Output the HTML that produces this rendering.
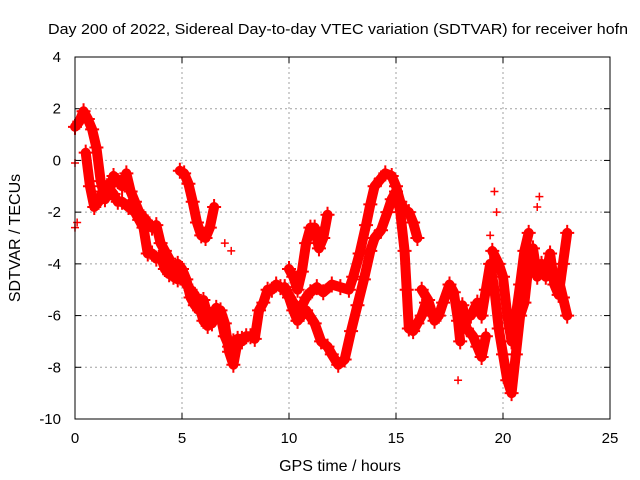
<!DOCTYPE html>
<html><head><meta charset="utf-8"><style>
body{margin:0;background:#fff}
svg{display:block;font-family:"Liberation Sans",sans-serif}
</style></head><body>
<svg id="chart" width="640" height="480">
<text x="48" y="34" font-size="15" textLength="580" lengthAdjust="spacingAndGlyphs">Day 200 of 2022, Sidereal Day-to-day VTEC variation (SDTVAR) for receiver hofn</text>
<text x="340" y="471" font-size="16" text-anchor="middle">GPS time / hours</text>
<text transform="translate(20,238) rotate(-90)" font-size="16" text-anchor="middle">SDTVAR / TECUs</text>
<g id="grid"></g><g id="ticks"></g><g id="data"></g>
<rect x="75" y="57" width="535" height="362" fill="none" stroke="#000" stroke-width="1"/>
</svg>
<script>
const xTicks=[0,5,10,15,20,25];
const yTicks=[4,2,0,-2,-4,-6,-8,-10];
const trackA=[[0,1.3],[0.2,1.5],[0.4,1.9],[0.6,1.6],[0.8,1.2],[1.0,0.5],[1.2,-0.8],[1.4,-1.5],[1.6,-1.2],[1.8,-0.6],[2.0,-0.8],[2.2,-1.0],[2.4,-0.5],[2.6,-1.2],[2.8,-1.6],[3.0,-2.0],[3.2,-2.2],[3.4,-2.4],[3.6,-2.6],[3.8,-2.5],[4.0,-3.2],[4.2,-3.5],[4.4,-3.8],[4.6,-4.5],[4.8,-4.6],[5.0,-4.4],[5.2,-4.8],[5.4,-5.0],[5.6,-5.2],[5.8,-5.6],[6.0,-6.2],[6.2,-6.4],[6.4,-6.0],[6.6,-5.7],[6.8,-6.0],[7.0,-6.8],[7.2,-7.2],[7.4,-7.0],[7.6,-6.9],[7.8,-6.9],[8.0,-6.8],[8.2,-6.8],[8.4,-6.9],[8.6,-5.8],[8.8,-5.5],[9.0,-5.0],[9.2,-5.0],[9.4,-4.8],[9.6,-4.9],[9.8,-5.0],[10.0,-5.3],[10.2,-5.8],[10.4,-6.2]];
const trackA2=[[0.5,0.3],[0.7,-1.0],[0.9,-1.8],[1.1,-1.6],[1.3,-1.2],[1.5,-1.0],[1.8,-1.3],[2.0,-1.6],[2.2,-1.6],[2.5,-1.8],[2.8,-2.0],[3.0,-2.3],[3.2,-2.6],[3.4,-3.6],[3.6,-3.6],[3.8,-3.8],[4.0,-3.7],[4.2,-4.2],[4.4,-4.4],[4.6,-4.2],[4.8,-4.0],[5.0,-4.2],[5.2,-4.6],[5.4,-5.3],[5.6,-5.6],[5.8,-5.8],[6.0,-5.4],[6.2,-6.0],[6.4,-6.3],[6.6,-6.0],[6.8,-5.8],[7.0,-6.3],[7.2,-7.4],[7.4,-7.9],[7.6,-7.0],[7.8,-7.0]];
const trackB=[[4.9,-0.4],[5.1,-0.5],[5.3,-0.9],[5.5,-1.6],[5.7,-2.4],[5.9,-2.9],[6.1,-3.0],[6.3,-2.6],[6.5,-1.8]];
const trackC=[[10.0,-4.2],[10.2,-4.5],[10.4,-5.0],[10.6,-4.3],[10.8,-3.2],[11.0,-2.6],[11.2,-2.6],[11.4,-3.4],[11.6,-3.0],[11.8,-2.1]];
const trackD=[[9.8,-4.9],[10.2,-5.5],[10.5,-5.8],[10.8,-5.3],[11.0,-5.1],[11.3,-4.9],[11.6,-5.1],[12.0,-4.8],[12.4,-4.9],[12.8,-5.0],[13.0,-4.5],[13.3,-3.6],[13.6,-2.5],[13.8,-1.7],[14.0,-1.0],[14.3,-0.7],[14.5,-0.5],[14.8,-0.6],[15.0,-1.0],[15.2,-1.6],[15.4,-1.9],[15.6,-2.0],[15.8,-2.4],[16.0,-3.0]];
const trackE=[[10.4,-6.2],[10.8,-5.8],[11.2,-6.3],[11.5,-7.0],[11.8,-7.2],[12.0,-7.5],[12.3,-7.9],[12.6,-7.7],[12.9,-6.6],[13.2,-5.6],[13.5,-4.6],[13.8,-3.5],[14.0,-3.0],[14.3,-2.7],[14.6,-2.0],[14.8,-1.5],[15.0,-1.2],[15.2,-2.0],[15.4,-3.5],[15.5,-5.0],[15.6,-6.5],[15.8,-6.6],[16.0,-6.3],[16.2,-6.0],[16.4,-5.5],[16.6,-5.8]];
const trackF=[[16.2,-5.0],[16.5,-5.4],[16.8,-6.2],[17.0,-6.0],[17.2,-5.5],[17.5,-4.8],[17.7,-5.1],[17.9,-6.2],[18.0,-7.0]];
const trackG=[[18.5,-6.0],[18.8,-5.5],[19.0,-6.0],[19.2,-5.0],[19.4,-4.0],[19.6,-5.0],[19.8,-6.5],[20.0,-7.5],[20.2,-8.5],[20.4,-9.0],[20.6,-7.5],[20.8,-6.0],[21.0,-5.5],[21.2,-4.0],[21.4,-3.4],[21.6,-4.5]];
const trackH=[[19.5,-3.5],[19.8,-4.0],[20.0,-4.5],[20.2,-6.0],[20.4,-7.0],[20.6,-6.0],[20.8,-4.8],[21.0,-3.5],[21.2,-2.8]];
const trackI=[[21.8,-4.0],[22.0,-4.5],[22.2,-3.6],[22.4,-4.8],[22.6,-5.2],[22.8,-4.0],[23.0,-2.8]];
const trackI2=[[22.6,-4.6],[22.8,-5.3],[23.0,-6.0]];
const trackJ=[[18.1,-5.6],[18.3,-6.5],[18.6,-6.8],[18.8,-7.2],[19.0,-7.6],[19.2,-6.8]];
const isolated=[[0,-2.6],[0,-0.1],[7,-3.2],[7.3,-3.5],[19.6,-1.2],[19.7,-2.0],[21.7,-1.4],[21.6,-1.8],[19.4,-2.9],[17.9,-8.5],[0.1,-2.4]];
const tracks=[trackA,trackA2,trackB,trackC,trackD,trackE,trackF,trackG,trackH,trackI,trackI2,trackJ];

const X=h=>75+h*(535/25);
const Y=v=>57+(4-v)*(362/14);
const NS='http://www.w3.org/2000/svg';
function mk(tag,attrs,parent){const e=document.createElementNS(NS,tag);for(const k in attrs)e.setAttribute(k,attrs[k]);parent.appendChild(e);return e;}
const grid=document.getElementById('grid'),ticks=document.getElementById('ticks'),data=document.getElementById('data');
xTicks.forEach(t=>{
 if(t>0&&t<25){const g=mk('line',{x1:X(t),x2:X(t),y1:57,y2:419,stroke:'#a0a0a0','stroke-dasharray':'2,3'},grid);
 
 }
 mk('line',{x1:X(t),x2:X(t),y1:419,y2:413,stroke:'#000'},ticks);
 mk('line',{x1:X(t),x2:X(t),y1:57,y2:63,stroke:'#000'},ticks);
 const l=mk('text',{x:X(t),y:443,'font-size':15,'text-anchor':'middle'},ticks);l.textContent=t;
 
 
});
yTicks.forEach(t=>{
 if(t<4&&t>-10){const g=mk('line',{x1:75,x2:610,y1:Y(t),y2:Y(t),stroke:'#a0a0a0','stroke-dasharray':'2,3'},grid);
 
 }
 mk('line',{x1:75,x2:81,y1:Y(t),y2:Y(t),stroke:'#000'},ticks);
 mk('line',{x1:604,x2:610,y1:Y(t),y2:Y(t),stroke:'#000'},ticks);
 const l=mk('text',{x:61,y:Y(t)+5,'font-size':15,'text-anchor':'end'},ticks);l.textContent=t;
 
 
});
function plus(p){return `M${X(p[0])-4},${Y(p[1])}h8M${X(p[0])},${Y(p[1])-4}v8`;}
function plusBig(p){return `M${X(p[0])-7},${Y(p[1])}h14M${X(p[0])},${Y(p[1])-8}v16`;}
tracks.forEach(tr=>{
 const pl=mk('polyline',{points:tr.map(p=>X(p[0])+','+Y(p[1])).join(' '),fill:'none',stroke:'#ff0000','stroke-width':10,'stroke-linejoin':'round','stroke-linecap':'round'},data);
 
 
 const m=mk('path',{d:tr.map(plusBig).join(''),stroke:'#ff0000','stroke-width':2,fill:'none'},data);
 
 
});
const iso=mk('path',{d:isolated.map(plus).join(''),stroke:'#ff0000','stroke-width':1.5,fill:'none'},data);


</script>
</body></html>
